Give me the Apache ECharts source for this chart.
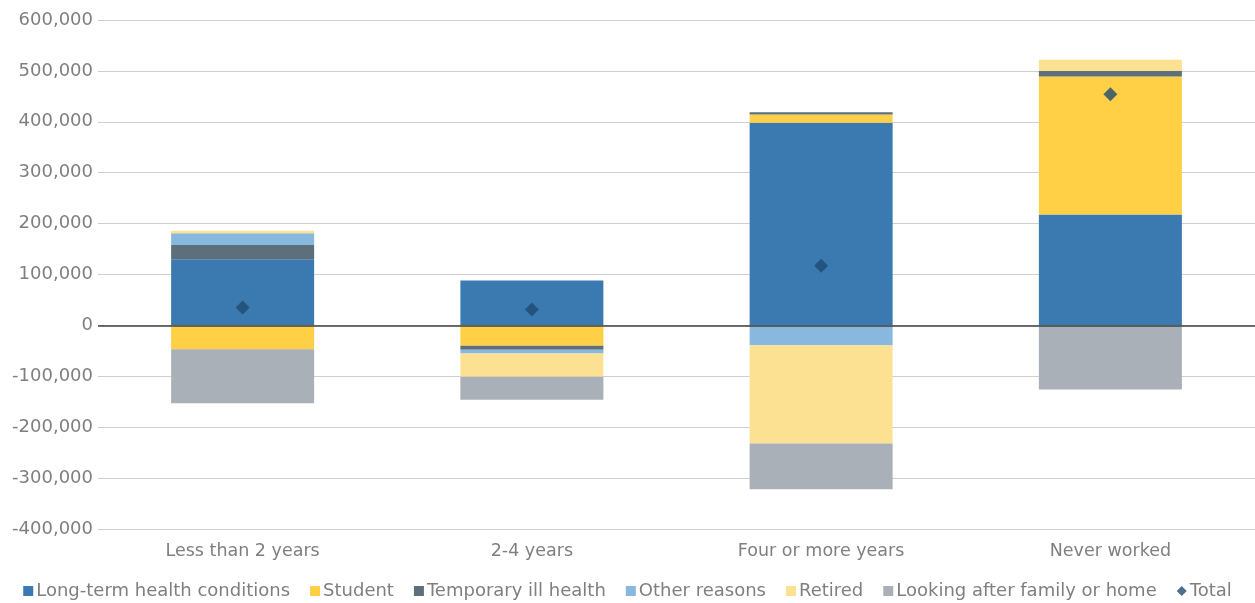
<!DOCTYPE html>
<html><head><meta charset="utf-8">
<script src="https://cdn.jsdelivr.net/npm/echarts@6/dist/echarts.min.js"></script>
<style>html,body{margin:0;padding:0;background:#fff}#c{width:1255px;height:603px}</style>
</head><body><div id="c"></div>
<script>
const categories = ["Less than 2 years", "2-4 years", "Four or more years", "Never worked"];
const longTerm = [130000, 88000, 398000, 218000];
const student = [-47000, -40000, 16500, 271000];
const temporary = [28000, -8000, 4500, 11000];
const otherReasons = [23000, -7000, -39000, 0];
const retired = [5000, -46000, -193000, 22000];
const lookingAfter = [-106000, -45000, -90000, -126000];
const total = [35000, 31000, 117000, 454000];
const yTicks = { min: -400000, max: 600000, interval: 100000 };

const FONT = "'DejaVu Sans', sans-serif";
const TXT = '#7f7f7f';
const chart = echarts.init(document.getElementById('c'), null, { renderer: 'canvas' });
function bar(name, data, color, extra) {
  return Object.assign({
    name, type: 'bar', stack: 's', data, barWidth: 143,
    itemStyle: { color }, emphasis: { disabled: true }
  }, extra || {});
}
chart.setOption({
  animation: false,
  grid: { left: 98, right: -3, top: 20, bottom: 74 },
  xAxis: {
    type: 'category', data: categories,
    axisLine: { show: false, onZero: false }, axisTick: { show: false },
    axisLabel: { color: TXT, fontSize: 17.5, fontFamily: FONT, margin: 13 }
  },
  yAxis: {
    type: 'value', min: yTicks.min, max: yTicks.max, interval: yTicks.interval,
    axisLine: { show: false }, axisTick: { show: false },
    splitLine: { lineStyle: { color: '#cfcfcf', width: 1.2 } },
    axisLabel: { color: TXT, fontSize: 18, fontFamily: FONT, margin: 5,
      formatter: v => v.toLocaleString('en-US') }
  },
  legend: {
    bottom: -2, left: 'center', itemWidth: 10, itemHeight: 10, itemGap: 20,
    textStyle: { color: TXT, fontSize: 18, fontFamily: FONT, padding: [0, 0, 0, -2] },
    data: [
      { name: 'Long-term health conditions', icon: 'rect' },
      { name: 'Student', icon: 'rect' },
      { name: 'Temporary ill health', icon: 'rect' },
      { name: 'Other reasons', icon: 'rect' },
      { name: 'Retired', icon: 'rect' },
      { name: 'Looking after family or home', icon: 'rect' },
      { name: 'Total', icon: 'diamond' }
    ]
  },
  series: [
    bar('Long-term health conditions', longTerm, '#3B7AB0', {
      markLine: { silent: true, symbol: 'none', label: { show: false },
        lineStyle: { color: '#404040', width: 1.5, type: 'solid' },
        data: [{ yAxis: 0 }], z: 10 }
    }),
    bar('Student', student, '#FFD046'),
    bar('Temporary ill health', temporary, '#5D6F7A'),
    bar('Other reasons', otherReasons, '#88B8DE'),
    bar('Retired', retired, '#FDE192'),
    bar('Looking after family or home', lookingAfter, '#A9B0B7'),
    { name: 'Total', type: 'scatter', data: total, symbol: 'diamond', symbolSize: 14,
      itemStyle: { color: '#1F4B70' }, z: 20, emphasis: { disabled: true } }
  ]
});
</script></body></html>
